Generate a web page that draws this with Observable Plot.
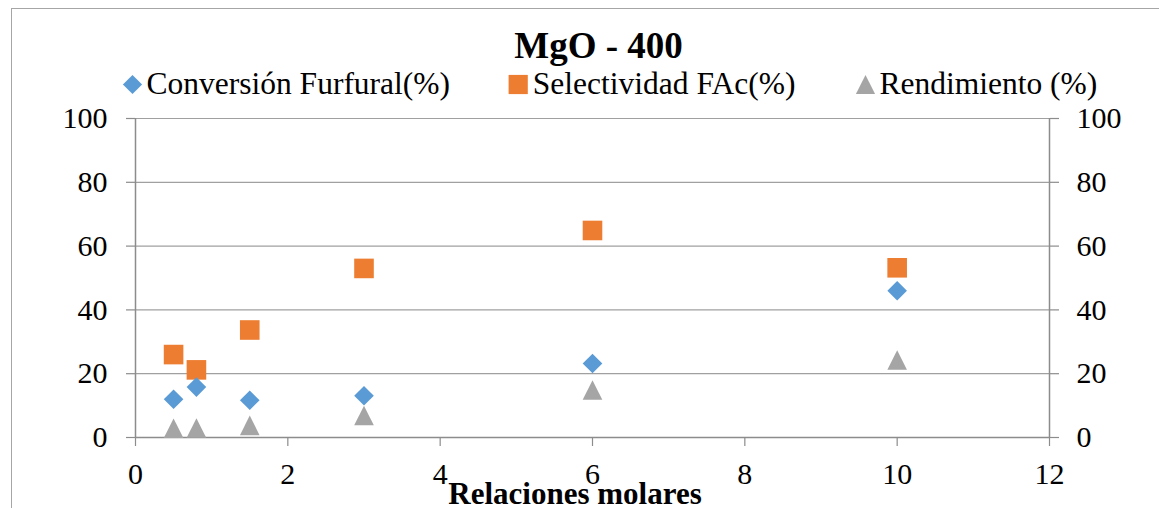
<!DOCTYPE html>
<html>
<head>
<meta charset="utf-8">
<script src="https://cdn.jsdelivr.net/npm/d3@7"></script>
<script src="https://cdn.jsdelivr.net/npm/@observablehq/plot@0.6"></script>
<style>
  html, body { margin: 0; padding: 0; background: #fff; overflow: hidden; }
  #wrap { position: relative; width: 1159px; height: 508px; }
  #border { position: absolute; left: 11px; top: 8px; width: 1200px; height: 600px;
            border-top: 1.5px solid #a6a6a6; border-left: 1.5px solid #a6a6a6; }
  #chart { position: absolute; left: 0; top: 0; }
  #chart svg text { fill: #000; }
</style>
</head>
<body>
<div id="wrap"><div id="border"></div><div id="chart"></div></div>
<script>
// ---- data ----
const relaciones = [0.5, 0.8, 1.5, 3, 6, 10];
const conversion = [12.0, 15.8, 11.7, 13.1, 23.2, 46.0];
const selectividad = [26.0, 21.2, 33.7, 53.0, 64.9, 53.2];
const rendimiento = [2.9, 3.0, 3.8, 6.9, 14.9, 24.3];
const xTicks = [0, 2, 4, 6, 8, 10, 12];
const yTicks = [0, 20, 40, 60, 80, 100];
const title = "MgO - 400";
const xLabel = "Relaciones molares";
const seriesNames = ["Conversión Furfural(%)", "Selectividad FAc(%)", "Rendimiento (%)"];
const seriesColors = ["#5b9bd5", "#ed7d31", "#a5a5a5"];

// ---- symbols (bbox-centred, like Excel markers) ----
const hOf = size => Math.sqrt(size / Math.PI);
const diamondSym = {draw(c, s) { const h = hOf(s); c.moveTo(0, -h); c.lineTo(h, 0); c.lineTo(0, h); c.lineTo(-h, 0); c.closePath(); }};
const squareSym = {draw(c, s) { const h = hOf(s); c.moveTo(-h, -h); c.lineTo(h, -h); c.lineTo(h, h); c.lineTo(-h, h); c.closePath(); }};
const triangleSym = {draw(c, s) { const h = hOf(s); c.moveTo(0, -h); c.lineTo(h, h); c.lineTo(-h, h); c.closePath(); }};
const symbols = [diamondSym, squareSym, triangleSym];

const rows = (ys) => relaciones.map((x, i) => ({x, y: ys[i]}));
const seriesData = [conversion, selectividad, rendimiento].map(rows);

const serif = "Liberation Serif";
const axisGrey = "#8c8c8c";

const legendX = [[-3, 11], [382.7, 397.3], [730, 744]];

const marks = [
  Plot.gridY(yTicks.filter(d => d > 0), {stroke: "#a0a0a0", strokeOpacity: 1, strokeWidth: 1.2}),
  Plot.ruleX([0, 12], {stroke: axisGrey, strokeWidth: 1.5}),
  Plot.ruleY([0], {stroke: axisGrey, strokeWidth: 1.5}),
  Plot.axisY({anchor: "left", ticks: yTicks, tickSize: 9, tickPadding: 19, stroke: axisGrey, strokeWidth: 1.2, fill: "#000", label: null, fontSize: 30, fontFamily: serif}),
  Plot.axisY({anchor: "right", ticks: yTicks, tickSize: 9, tickPadding: 18, stroke: axisGrey, strokeWidth: 1.2, fill: "#000", label: null, fontSize: 30, fontFamily: serif}),
  Plot.axisX({anchor: "bottom", ticks: xTicks, tickSize: 9, tickPadding: 16, stroke: axisGrey, strokeWidth: 1.2, fill: "#000", label: null, fontSize: 30, fontFamily: serif}),
  // series: draw grey, orange, then blue
  ...[2, 1, 0].map(k => Plot.dot(seriesData[k], {x: "x", y: "y", symbol: symbols[k], r: 9.8, fill: seriesColors[k], stroke: "none"})),
  // title
  Plot.text([title], {text: d => d, frameAnchor: "top-left", dx: 463, dy: -60.7, textAnchor: "middle", lineAnchor: "bottom",
    fontSize: 37, fontWeight: "bold", fontFamily: serif, fill: "#000"}),
  // x label
  Plot.text([xLabel], {text: d => d, frameAnchor: "bottom-left", dx: 439.5, dy: 66.3, textAnchor: "middle", lineAnchor: "bottom",
    fontSize: 31, fontWeight: "bold", fontFamily: serif, fill: "#000"}),
  // legend
  ...seriesNames.flatMap((name, k) => [
    Plot.dot([name], {frameAnchor: "top-left", dx: legendX[k][0], dy: -34, symbol: symbols[k], r: 9.6, fill: seriesColors[k], stroke: "none"}),
    Plot.text([name], {text: d => d, frameAnchor: "top-left", dx: legendX[k][1], dy: -24.7, textAnchor: "start", lineAnchor: "bottom",
      fontSize: 31.5, fontFamily: serif, fill: "#000"})
  ])
];

const chart = Plot.plot({
  width: 1159,
  height: 508,
  marginLeft: 135,
  marginRight: 110,
  marginTop: 118,
  marginBottom: 71,
  style: {fontFamily: serif, fontSize: "30px", background: "transparent", overflow: "visible"},
  x: {domain: [0, 12], axis: null},
  y: {domain: [0, 100], axis: null},
  marks
});
document.getElementById("chart").appendChild(chart);
</script>
</body>
</html>
